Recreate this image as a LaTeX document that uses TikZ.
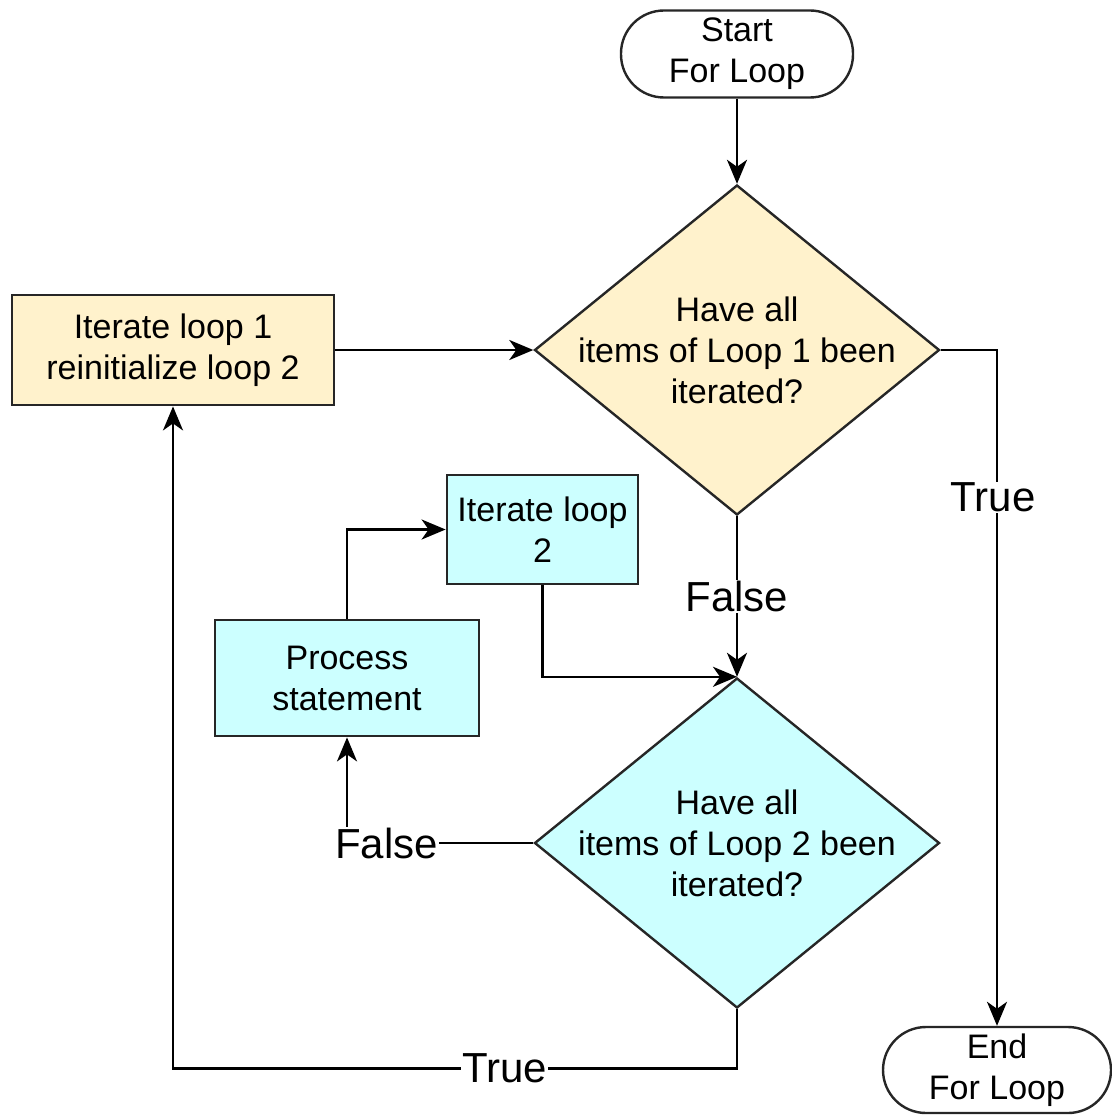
\documentclass[tikz,border=0pt]{standalone}
\usepackage{fontspec}
\setmainfont{Liberation Sans}
\usetikzlibrary{arrows.meta,shapes.geometric}
\definecolor{fillyellow}{HTML}{FFF2CC}
\definecolor{fillcyan}{HTML}{CCFFFF}
\definecolor{edge}{HTML}{262626}
\begin{document}
\begin{tikzpicture}[x=1pt,y=-1pt,
  txt/.style={font=\fontsize{34}{41}\selectfont,align=center},
  terminal/.style={draw=edge,line width=2.4pt,fill=white,rounded corners=43pt,
    minimum width=#1,minimum height=87pt,inner sep=0pt,txt},
  procbox/.style={draw=edge,line width=2.8pt,inner sep=0pt,txt},
  decision/.style={draw=edge,line width=2.4pt,diamond,inner sep=0pt},
  arr/.style={draw=black,line width=2.6pt,-{Stealth[length=24pt,width=20pt,inset=7pt]}},
  lbl/.style={fill=white,inner sep=1pt,font=\fontsize{42}{50}\selectfont}]
\useasboundingbox (0,0) rectangle (1111,1115);

% terminals
\node[terminal=232pt] (start) at (737,54) {Start\\For Loop};
\node[terminal=228pt,minimum height=86pt] (end) at (997,1070) {End\\For Loop};

% decisions (shape and text drawn separately so the diamond keeps its size)
\node[decision,fill=fillyellow,minimum width=405pt,minimum height=330pt] (d1) at (737,350) {};
\node[txt] (d1t) at (d1.center) {Have all\\items of Loop 1 been\\iterated?};
\node[decision,fill=fillcyan,minimum width=405pt,minimum height=330pt] (d2) at (737,843) {};
\node[txt] (d2t) at (d2.center) {Have all\\items of Loop 2 been\\iterated?};

% process boxes
\node[procbox,fill=fillyellow,minimum width=322pt,minimum height=110pt] (b1) at (173,350)
  {Iterate loop 1\\reinitialize loop 2};
\node[procbox,fill=fillcyan,minimum width=191pt,minimum height=109pt] (b2) at (542.5,529.5)
  {Iterate loop\\2};
\node[procbox,fill=fillcyan,minimum width=264pt,minimum height=116pt] (b3) at (347,678)
  {Process\\statement};

% connectors
\draw[arr] (start.south) -- (d1.north);
\draw[arr] (b1.east) -- (d1.west);
\draw[arr] (d1.east) -| node[lbl,pos=0.609,xshift=-4pt] (ltrue1) {True} (end.north);
\draw[arr] (d1.south) -- node[lbl,pos=0.5] (lfalse1) {False} (d2.north);
\draw[arr] (b2.south) |- (d2.north);
\draw[arr] (b3.north) |- (b2.west);
\draw[arr] (d2.west) -| node[lbl,pos=0.394] (lfalse2) {False} (b3.south);
\draw[arr] (d2.south) -- ++(0,59) -| node[lbl,pos=0.206] (ltrue2) {True} (b1.south);
\end{tikzpicture}
\end{document}
